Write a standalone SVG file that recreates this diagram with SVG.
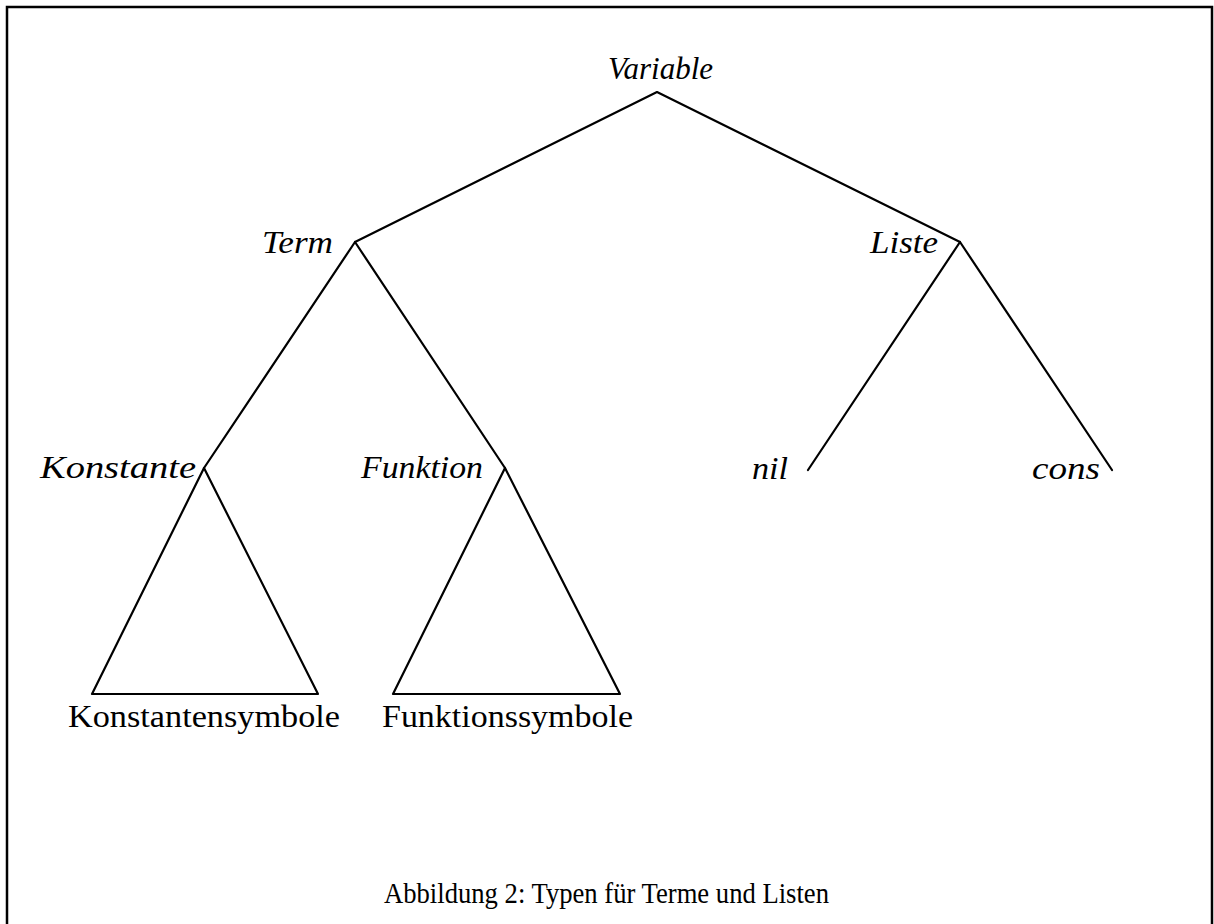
<svg xmlns="http://www.w3.org/2000/svg" width="1214" height="924" viewBox="0 0 1214 924">
<style>
text{font-family:"Liberation Serif","DejaVu Serif",serif;font-size:32px;fill:#000}
.i{font-style:italic}
.c{font-size:29px}
.e{stroke:#000;stroke-width:2.2;fill:none;stroke-linecap:round;stroke-linejoin:round}
</style>
<rect width="1214" height="924" fill="#fff"/>
<path d="M7,924 V7 H1212 V924" fill="none" stroke="#000" stroke-width="2.5"/>
<g id="connectors">
<path class="e" d="M355,242 L657,92 L960,242"/>
<path class="e" d="M204,468 L355,242 L505,468"/>
<path class="e" d="M808,470 L960,242 L1112,470"/>
<path class="e" d="M204,468 L92,694 H318 Z"/>
<path class="e" d="M505,468 L393,694 H620 Z"/>
</g>
<g id="variable"><text class="i" x="608" y="79" textLength="105" lengthAdjust="spacingAndGlyphs">Variable</text></g>
<g id="term"><text class="i" x="262" y="253" textLength="71" lengthAdjust="spacingAndGlyphs">Term</text></g>
<g id="liste"><text class="i" x="870" y="253" textLength="68" lengthAdjust="spacingAndGlyphs">Liste</text></g>
<g id="konstante"><text class="i" x="40" y="478" textLength="156" lengthAdjust="spacingAndGlyphs">Konstante</text></g>
<g id="funktion"><text class="i" x="361" y="478" textLength="122" lengthAdjust="spacingAndGlyphs">Funktion</text></g>
<g id="nil"><text class="i" x="752" y="479" textLength="36" lengthAdjust="spacingAndGlyphs">nil</text></g>
<g id="cons"><text class="i" x="1032" y="479" textLength="68" lengthAdjust="spacingAndGlyphs">cons</text></g>
<g id="konstantensymbole"><text x="68" y="727" textLength="272" lengthAdjust="spacingAndGlyphs">Konstantensymbole</text></g>
<g id="funktionssymbole"><text x="382" y="727" textLength="251" lengthAdjust="spacingAndGlyphs">Funktionssymbole</text></g>
<g id="caption"><text class="c" x="384" y="903" textLength="445" lengthAdjust="spacingAndGlyphs">Abbildung 2: Typen für Terme und Listen</text></g>
</svg>
